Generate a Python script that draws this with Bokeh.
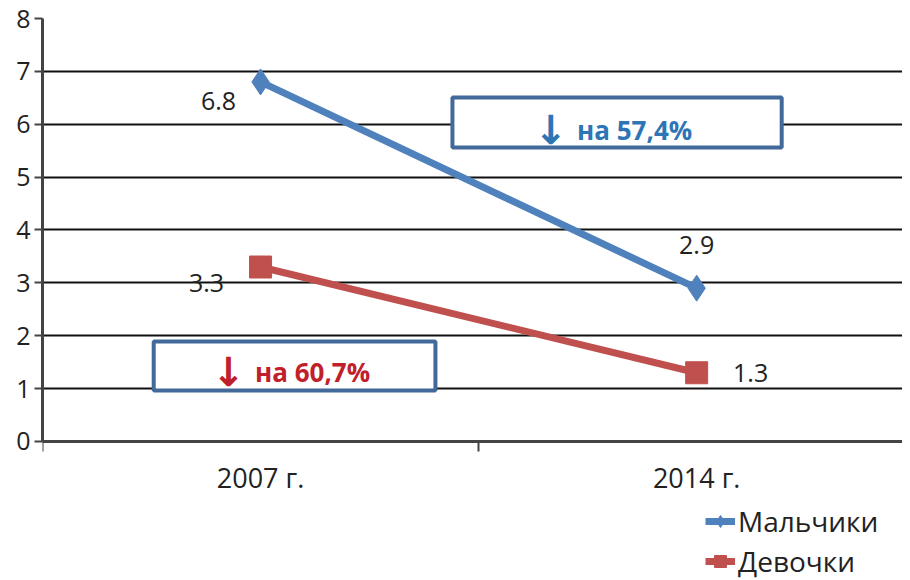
from bokeh.plotting import figure
from bokeh.models import (ColumnDataSource, FixedTicker, BoxAnnotation, Label,
                          Legend, LegendItem, Range1d)
from bokeh.core.properties import value
from bokeh.embed import file_html
from bokeh.resources import INLINE

# ---- data ----
categories = ["2007 г.", "2014 г."]
boys = [6.8, 2.9]
girls = [3.3, 1.3]
boys_label_dx = [-42, 0]
boys_label_dy = [19, -43]
girls_label_dx = [-54, 54]
girls_label_dy = [16, 0]
series_names = ["Мальчики", "Девочки"]
box_texts = ["↓ на 57,4%", "↓ на 60,7%"]
y_ticks = [0, 1, 2, 3, 4, 5, 6, 7, 8]

FONT = "Open Sans"
BLUE = "#4F81BD"
RED = "#C0504D"

xs = [i + 0.5 for i in range(len(categories))]

p = figure(width=902, height=580, output_backend="svg", toolbar_location=None,
           x_range=Range1d(0, 1.972), y_range=Range1d(-2.629, 8),
           min_border_left=42, min_border_right=0, min_border_top=18,
           min_border_bottom=0)
p.outline_line_color = None
p.background_fill_color = "white"

# axes
p.xaxis.fixed_location = 0
p.xaxis.ticker = FixedTicker(ticks=xs, minor_ticks=[0, 1, 2])
p.xaxis.major_label_overrides = {x: c for x, c in zip(xs, categories)}
p.xaxis.major_tick_line_color = None
p.xaxis.major_tick_out = 0
p.xaxis.major_tick_in = 0
p.xaxis.minor_tick_out = 10
p.xaxis.minor_tick_in = 0
p.xaxis.minor_tick_line_color = "#444444"
p.xaxis.minor_tick_line_width = 2
p.xaxis.major_label_standoff = 8
p.xaxis.axis_line_color = "#444444"
p.xaxis.axis_line_width = 3
p.xaxis.major_label_text_font_size = "27px"

p.yaxis.ticker = FixedTicker(ticks=y_ticks)
p.yaxis.bounds = (0, 8)
p.yaxis.minor_tick_line_color = None
p.yaxis.major_tick_out = 8
p.yaxis.major_tick_in = 0
p.yaxis.major_tick_line_color = "#444444"
p.yaxis.major_tick_line_width = 2
p.yaxis.major_label_standoff = 4
p.yaxis.axis_line_color = "#444444"
p.yaxis.axis_line_width = 3
p.yaxis.major_label_text_font_size = "25px"

for ax in (p.xaxis, p.yaxis):
    ax.major_label_text_font = FONT
    ax.major_label_text_color = "#222222"

p.xgrid.grid_line_color = None
p.ygrid.ticker = FixedTicker(ticks=y_ticks)
p.ygrid.grid_line_color = "#111111"
p.ygrid.grid_line_width = 2

# annotation boxes
box1 = BoxAnnotation(left=0.940, right=1.695, bottom=5.56, top=6.506,
                     fill_color="white", fill_alpha=1.0,
                     line_color="#41699A", line_alpha=1.0, line_width=4,
                     level="annotation")
box2 = BoxAnnotation(left=0.255, right=0.901, bottom=0.965, top=1.891,
                     fill_color="white", fill_alpha=1.0,
                     line_color="#41699A", line_alpha=1.0, line_width=4,
                     level="annotation")
p.add_layout(box1)
p.add_layout(box2)

box_specs = [(1.3165, 5.9, "#2E75B6"), (0.578, 1.31, "#C0202A")]
for t, (bx, by, col) in zip(box_texts, box_specs):
    arrow, rest = t[0], t[2:]
    p.add_layout(Label(x=bx, y=by, x_offset=-66, text=arrow, text_align="center",
                       text_baseline="middle", text_font="DejaVu Sans",
                       text_font_style="bold", text_font_size="40px",
                       text_color=col))
    p.add_layout(Label(x=bx, y=by, x_offset=18, text=rest, text_align="center",
                       text_baseline="middle", text_font=FONT,
                       text_font_style="bold", text_font_size="26px",
                       text_color=col))

# series
src_b = ColumnDataSource(dict(x=xs, y=boys, t=[f"{v:.1f}" for v in boys],
                              dx=boys_label_dx, dy=boys_label_dy))
src_g = ColumnDataSource(dict(x=xs, y=girls, t=[f"{v:.1f}" for v in girls],
                              dx=girls_label_dx, dy=girls_label_dy))

lb = p.line("x", "y", source=src_b, line_color=BLUE, line_width=7)
sb = p.scatter("x", "y", source=src_b, marker="diamond", size=26,
               fill_color=BLUE, line_color=BLUE)
lg = p.line("x", "y", source=src_g, line_color=RED, line_width=7)
sg = p.scatter("x", "y", source=src_g, marker="square", size=22,
               fill_color=RED, line_color=RED)

for src in (src_b, src_g):
    p.text("x", "y", text="t", source=src, x_offset="dx", y_offset="dy",
           text_align="center", text_baseline="middle",
           text_font=value(FONT), text_font_size="25px", text_color="#222222")

legend = Legend(items=[LegendItem(label=series_names[0], renderers=[lb, sb]),
                       LegendItem(label=series_names[1], renderers=[lg, sg])],
                location=(663, 0), orientation="vertical",
                padding=0, margin=0, spacing=2,
                glyph_width=30, glyph_height=30, label_height=30,
                label_standoff=3, border_line_color=None,
                background_fill_alpha=0,
                label_text_font=FONT, label_text_font_size="28px",
                label_text_color="#222222")
p.add_layout(legend)

open("out.html", "w").write(file_html(p, INLINE))
